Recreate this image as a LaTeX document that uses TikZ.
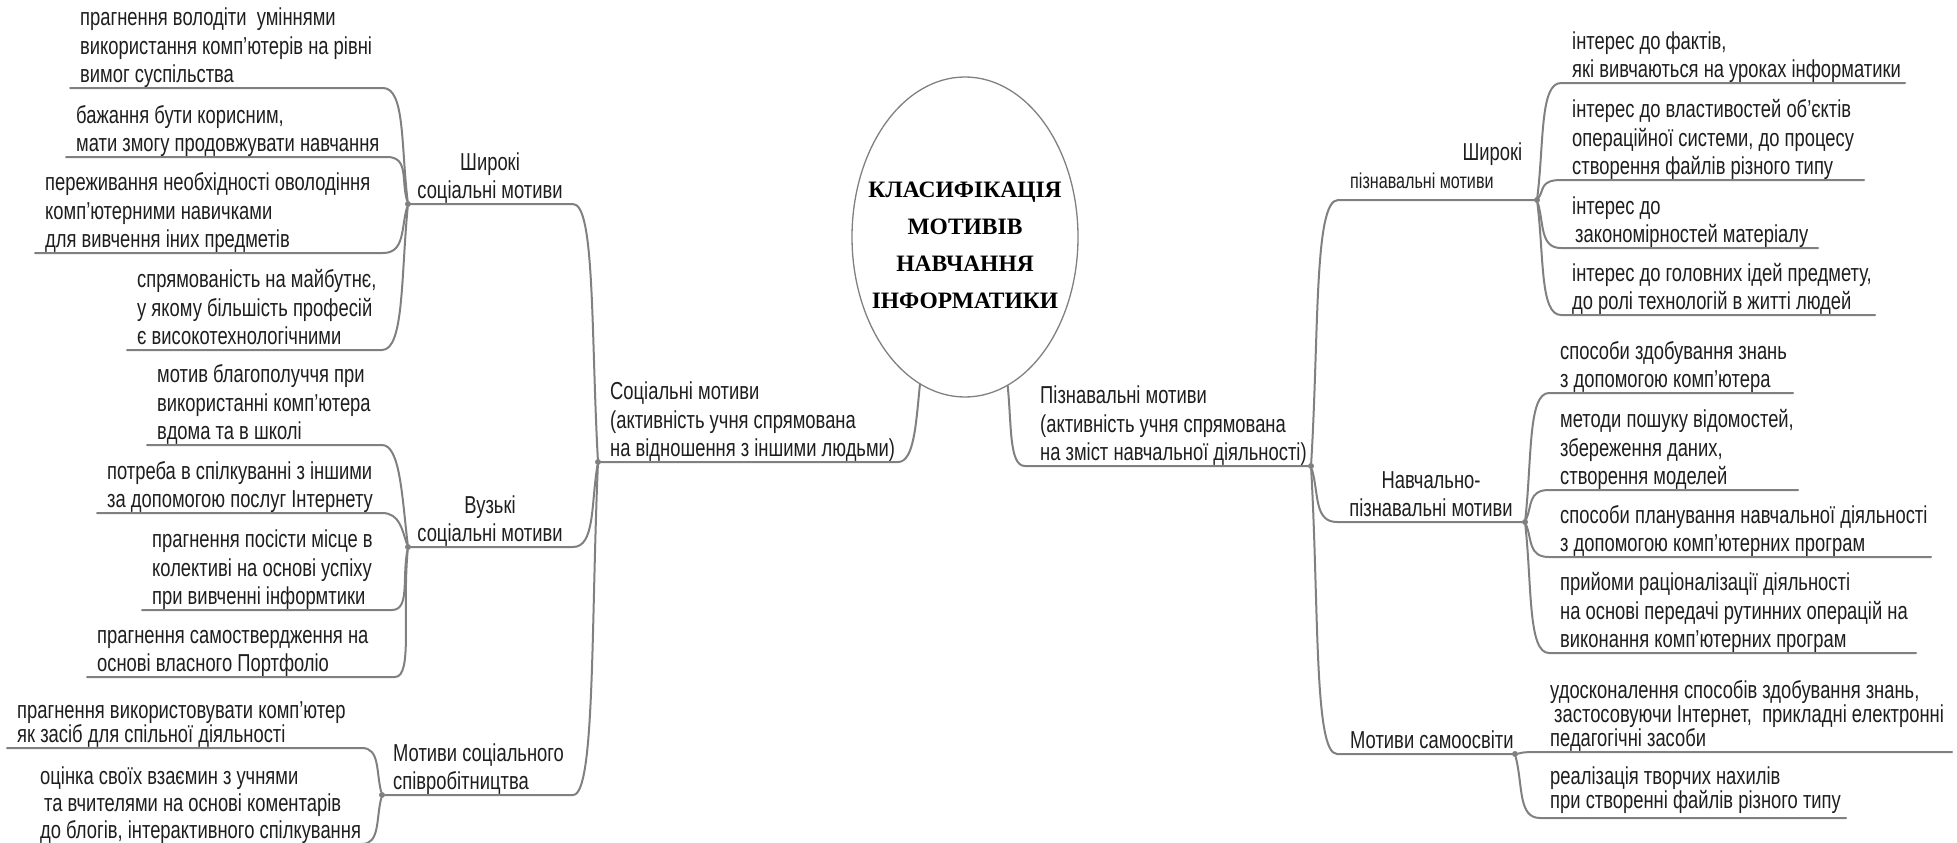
\documentclass[tikz,border=0pt]{standalone}
\usepackage{fontspec}
\setmainfont{Liberation Sans}[FakeStretch=0.75]
\newfontfamily\titlefont{Liberation Serif}
\usepackage{xcolor}
\usetikzlibrary{shapes.geometric}

\definecolor{twig}{RGB}{128,128,128}
\definecolor{ink}{RGB}{30,30,30}
\newcommand\mapsize{\fontsize{24.5}{28.5}\selectfont}

\tikzset{
  twig/.style={draw=twig, line width=2pt, line cap=round},
  hub/.style={circle, fill=twig, inner sep=0pt, minimum size=6pt},
  leaf/.style={align=left, anchor=south west, inner xsep=10pt, inner ysep=0pt,
    text depth=5pt, text=ink, font=\mapsize},
  root/.style={ellipse, draw=twig, line width=1.3pt, inner sep=0pt,
    minimum width=226pt, minimum height=320pt},
  title/.style={align=center, text=black, yshift=-8pt,
    font=\titlefont\bfseries\fontsize{23.5}{37}\selectfont}
}

\begin{document}
\begin{tikzpicture}[x=1pt, y=-1pt]
    \useasboundingbox (0,0) rectangle (1957,843);

    % Centre
    \node[root, label={[title]center:{КЛАСИФІКАЦІЯ\\МОТИВІВ\\НАВЧАННЯ\\ІНФОРМАТИКИ}}] (root) at (965,237) {};

    % Hubs
    \node[hub] (hl0) at (598,462) {};
    \node[hub] (hr0) at (1311,466) {};
    \node[hub] (hl1) at (408,204) {};
    \node[hub] (hl2) at (408,547) {};
    \node[hub] (hl3) at (382,795) {};
    \node[hub] (hr1) at (1537,200) {};
    \node[hub] (hr2) at (1525,522) {};
    \node[hub] (hr3) at (1515,754) {};

    % Level 1
    \node[leaf, inner xsep=12pt] (soc) at (598,462) {Соціальні мотиви\\(активність учня спрямована\\на відношення з іншими людьми)};
    \node[leaf, inner xsep=11pt] (cog) at (1029,466) {Пізнавальні мотиви\\(активність учня спрямована\\на зміст навчальної діяльності)};
    \coordinate (soc-turn) at (898,462);
    \coordinate (cog-turn) at (1025,466);
    \draw[twig] (root.253) .. controls +(-4,40) and +(16,0) .. (soc-turn) -- (hl0);
    \draw[twig] (root.286) .. controls +(4,40) and +(-16,0) .. (cog-turn) -- (hr0);

    % Level 2
    \node[leaf, anchor=south, align=center] (socwide) at (490,204) {Широкі\\соціальні мотиви};
    \node[leaf, anchor=south, align=center] (socnarrow) at (490,547) {Вузькі\\соціальні мотиви};
    \node[leaf] (soccoop) at (383,795) {Мотиви соціального\\співробітництва};
    \node[leaf] (cogwide) at (1340,194) {\makebox[172pt][r]{Широкі}\\{\fontsize{21.5}{28}\selectfont пізнавальні мотиви}};
    \node[leaf, anchor=south, align=center] (coglearn) at (1431,522) {Навчально-\\пізнавальні мотиви};
    \node[leaf] (cogself) at (1340,754) {Мотиви самоосвіти};

    \coordinate (socwide-turn) at (573,204);
    \coordinate (socnarrow-turn) at (573,547);
    \coordinate (soccoop-turn) at (573,795);
    \coordinate (cogwide-turn) at (1338,200);
    \coordinate (coglearn-turn) at (1337,522);
    \coordinate (cogself-turn) at (1337,754);
    \draw[twig] (hl0) .. controls +(-7,-129) and +(22,0) .. (socwide-turn) -- (hl1);
    \draw[twig] (hl0) .. controls +(-7,42) and +(22,0) .. (socnarrow-turn) -- (hl2);
    \draw[twig] (hl0) .. controls +(-7,166) and +(22,0) .. (soccoop-turn) -- (hl3);
    \draw[twig] (hr0) .. controls +(8,-133) and +(-24,0) .. (cogwide-turn) -- (hr1);
    \draw[twig] (hr0) .. controls +(8,28) and +(-23,0) .. (coglearn-turn) -- (hr2);
    \draw[twig] (hr0) .. controls +(8,144) and +(-23,0) .. (cogself-turn) -- (hr3);

    % Level 3 (left)
    \node[leaf] (l1a) at (70,88) {прагнення володіти~ уміннями\\використання комп'ютерів на рівні\\вимог суспільства};
    \node[leaf] (l1b) at (66,157) {бажання бути корисним,\\мати змогу продовжувати навчання};
    \node[leaf] (l1c) at (35,253) {переживання необхідності оволодіння\\комп'ютерними навичками\\для вивчення іних предметів};
    \node[leaf] (l1d) at (127,350) {спрямованість на майбутнє,\\у якому більшість професій\\є високотехнологічними};
    \node[leaf] (l2a) at (147,445) {мотив благополуччя при\\використанні комп'ютера\\вдома та в школі};
    \node[leaf] (l2b) at (97,513) {потреба в спілкуванні з іншими\\за допомогою послуг Інтернету};
    \node[leaf] (l2c) at (142,610) {прагнення посісти місце в\\колективі на основі успіху\\при вивченні інформтики};
    \node[leaf] (l2d) at (87,677) {прагнення самоствердження на\\основі власного Портфоліо};
    \node[leaf, font=\fontsize{24.5}{22}\selectfont] (l3a) at (7,748) {прагнення використовувати комп'ютер\\як засіб для спільної діяльності};
    \node[leaf, font=\fontsize{24.5}{27}\selectfont] (l3b) at (30,844) {оцінка своїх взаємин з учнями\\\hspace{4pt}та вчителями на основі коментарів\\до блогів, інтерактивного спілкування};

    \coordinate (l1a-turn) at (383,88);
    \coordinate (l1b-turn) at (387,157);
    \coordinate (l1c-turn) at (383,253);
    \coordinate (l1d-turn) at (382,350);
    \coordinate (l2a-turn) at (382,445);
    \coordinate (l2b-turn) at (382,513);
    \coordinate (l2c-turn) at (392,610);
    \coordinate (l2d-turn) at (395,677);
    \coordinate (l3a-turn) at (362,748);
    \coordinate (l3b-turn) at (362,844);

    \foreach \n/\d in {l1a/-58, l1b/-24, l1c/24, l1d/73} {
        \draw[twig] (hl1) .. controls +(-7,\d) and +(22,0) .. (\n-turn) -- (\n.south west);
    }
    \foreach \n/\d in {l2a/-51, l2b/-17, l2c/31, l2d/65} {
        \draw[twig] (hl2) .. controls +(-6,\d) and +(18,0) .. (\n-turn) -- (\n.south west);
    }
    \foreach \n/\d in {l3a/-23, l3b/24} {
        \draw[twig] (hl3) .. controls +(-6,\d) and +(18,0) .. (\n-turn) -- (\n.south west);
    }

    % Level 3 (right)
    \node[leaf, inner xsep=11pt] (r1a) at (1561,83) {інтерес до фактів,\\які вивчаються на уроках інформатики};
    \node[leaf, inner xsep=11pt] (r1b) at (1561,180) {інтерес до властивостей об'єктів\\операційної системи, до процесу\\створення файлів різного типу};
    \node[leaf, inner xsep=11pt] (r1c) at (1561,248) {інтерес до\\\hspace{3pt}закономірностей матеріалу};
    \node[leaf, inner xsep=11pt] (r1d) at (1561,315) {інтерес до головних ідей предмету,\\до ролі технологій в житті людей};
    \node[leaf, inner xsep=11pt] (r2a) at (1549,393) {способи здобування знань\\з допомогою комп'ютера};
    \node[leaf, inner xsep=11pt] (r2b) at (1549,490) {методи пошуку відомостей,\\збереження даних,\\створення моделей};
    \node[leaf, inner xsep=11pt] (r2c) at (1549,557) {способи планування навчальної діяльності\\з допомогою комп'ютерних програм};
    \node[leaf, inner xsep=11pt] (r2d) at (1549,653) {прийоми раціоналізації діяльності\\на основі передачі рутинних операцій на\\виконання комп'ютерних програм};
    \node[leaf, font=\fontsize{24.5}{24}\selectfont] (r3a) at (1540,752) {удосконалення способів здобування знань,\\\hspace{4pt}застосовуючи Інтернет,~ прикладні електронні\\педагогічні засоби};
    \node[leaf, font=\fontsize{24.5}{22}\selectfont, text depth=9pt] (r3b) at (1540,818) {реалізація творчих нахилів\\при створенні файлів різного типу};

    \coordinate (r1a-end) at (1905,83);
    \coordinate (r1b-end) at (1864,180);
    \coordinate (r1c-end) at (1818,248);
    \coordinate (r1d-end) at (1875,315);
    \coordinate (r2a-end) at (1793,393);
    \coordinate (r2b-end) at (1798,490);
    \coordinate (r2c-end) at (1931,557);
    \coordinate (r2d-end) at (1916,653);
    \coordinate (r3a-end) at (1952,752);
    \coordinate (r3b-end) at (1846,818);

    \foreach \n/\d in {r1a/-58, r1b/-10, r1c/24, r1d/57} {
        \draw[twig] (hr1) .. controls +(7,\d) and +(-21,0) .. (\n.south west) -- (\n-end);
    }
    \foreach \n/\d in {r2a/-64, r2b/-16, r2c/17, r2d/65} {
        \draw[twig] (hr2) .. controls +(7,\d) and +(-21,0) .. (\n.south west) -- (\n-end);
    }
    \foreach \n/\d in {r3a/-1, r3b/32} {
        \draw[twig] (hr3) .. controls +(8,\d) and +(-22,0) .. (\n.south west) -- (\n-end);
    }
\end{tikzpicture}
\end{document}
